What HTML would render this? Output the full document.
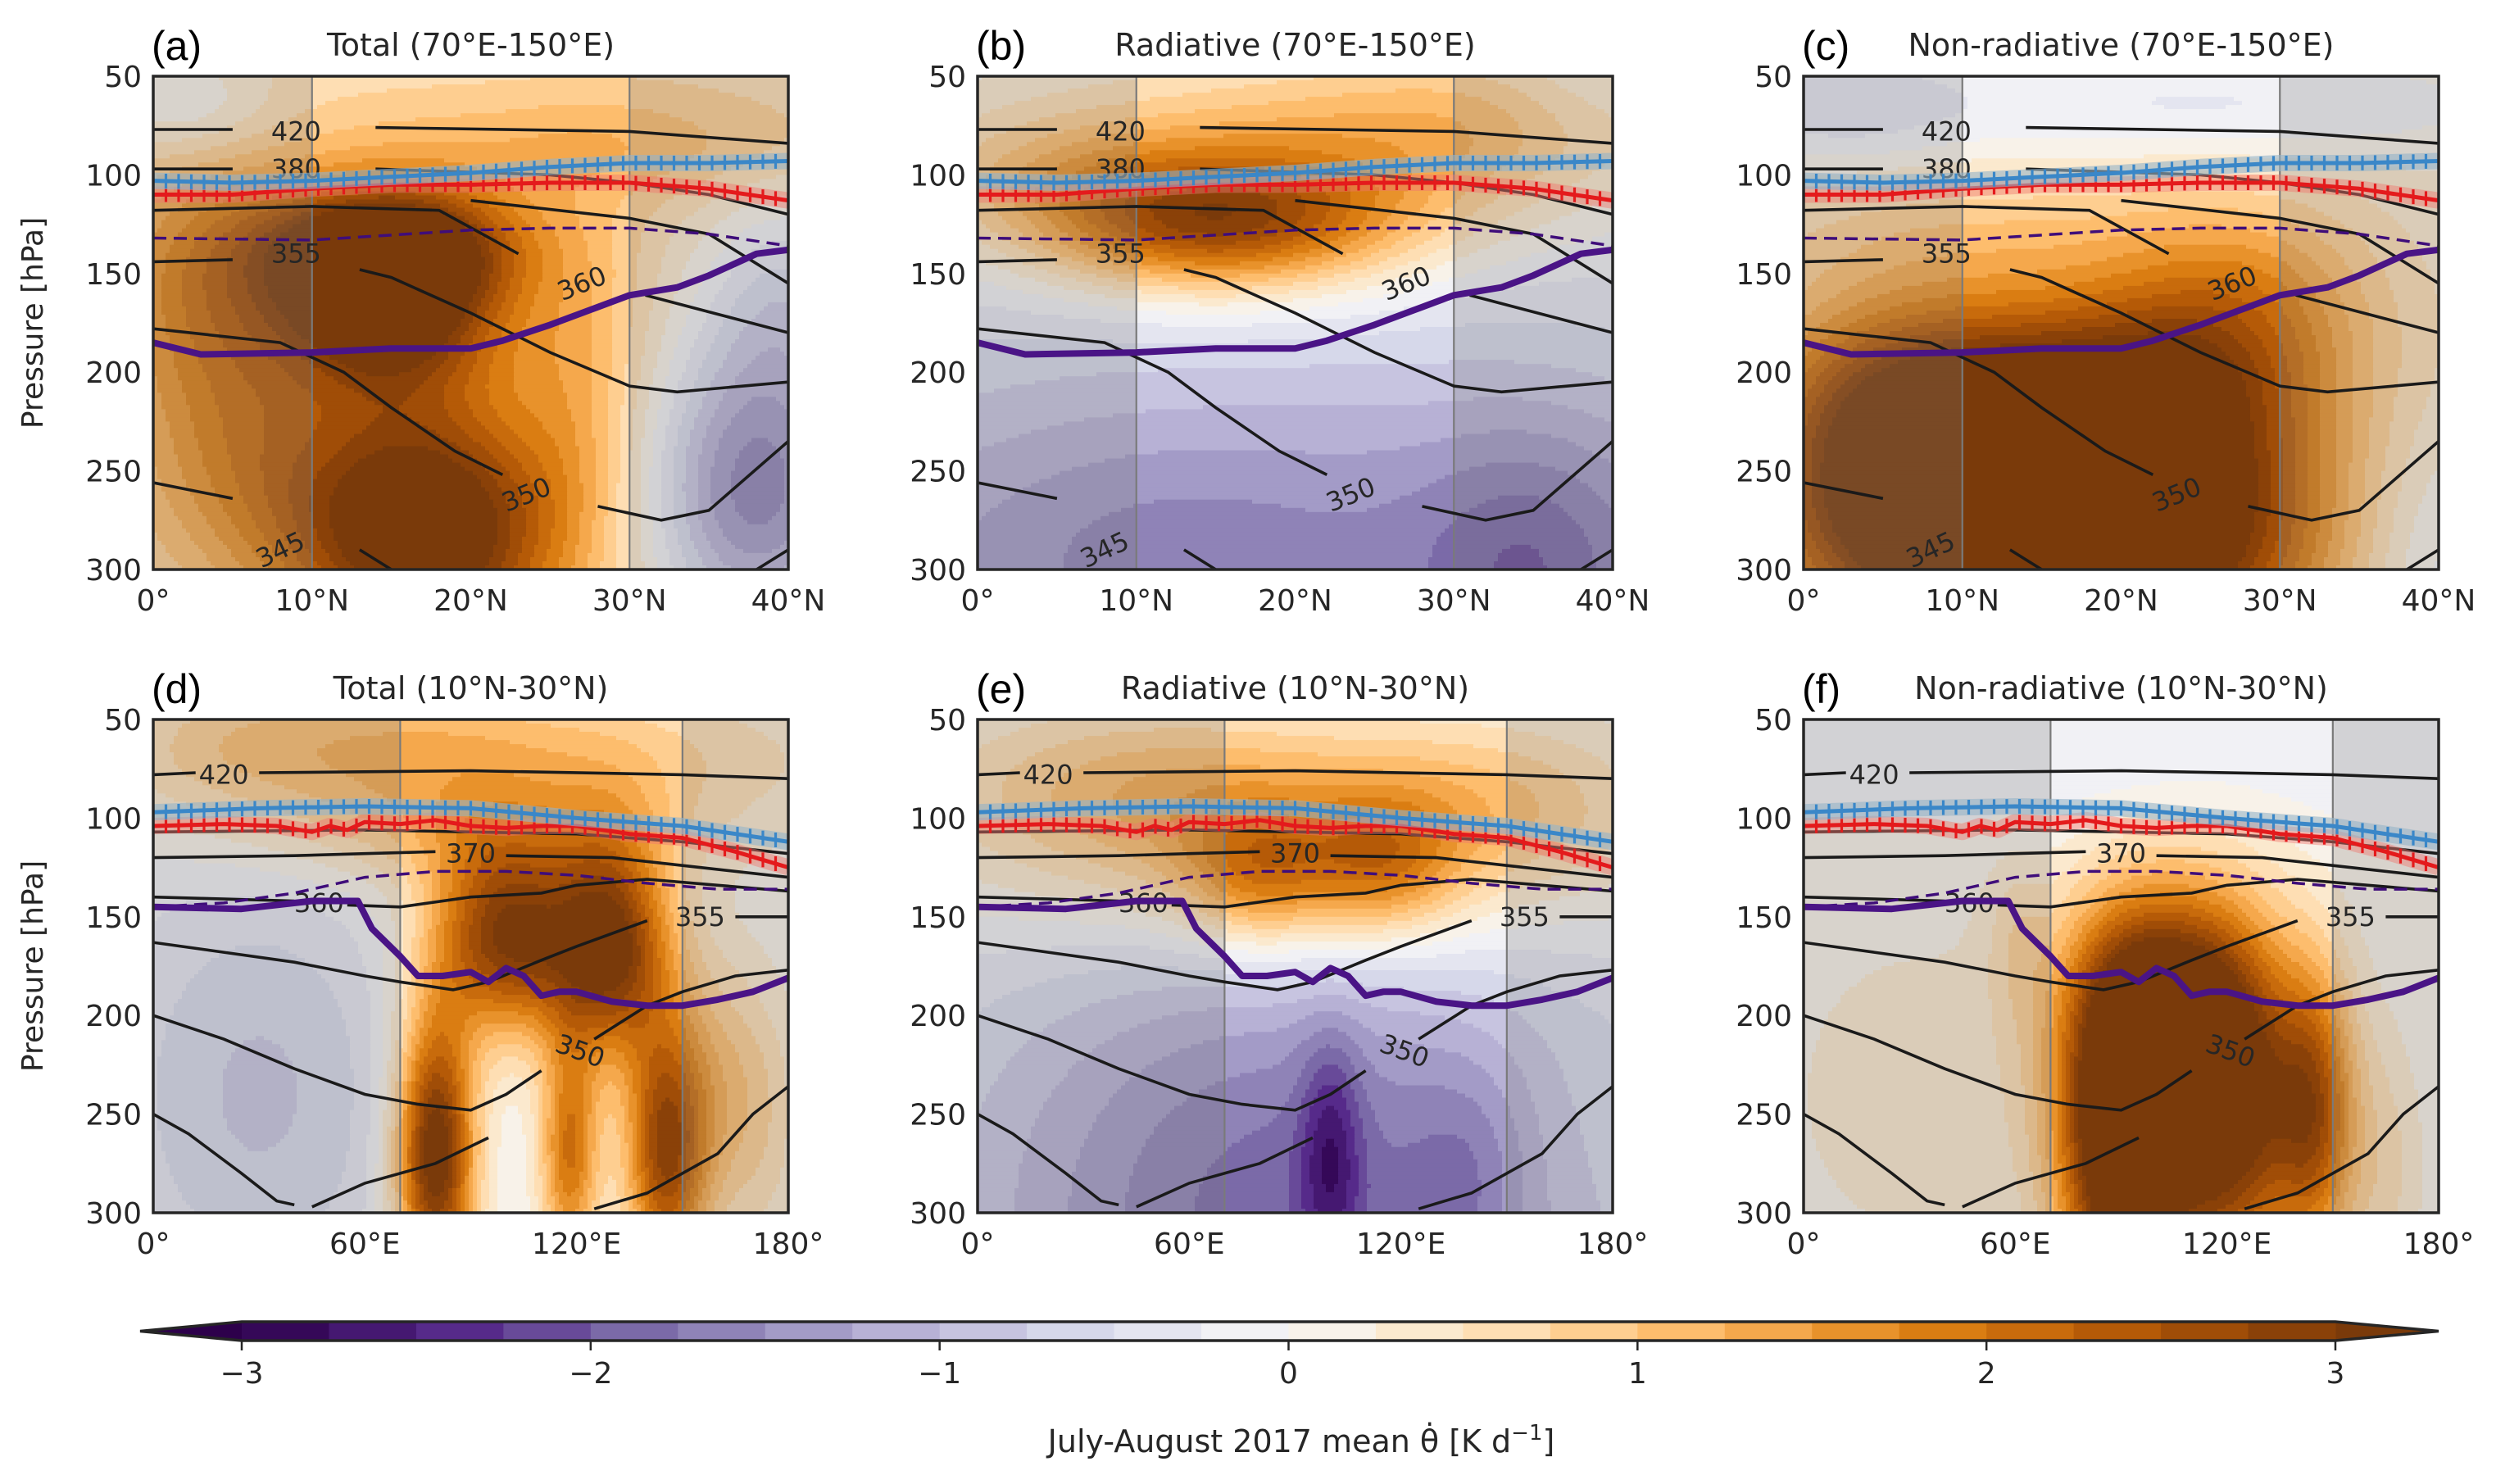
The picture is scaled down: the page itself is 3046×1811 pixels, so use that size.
<!DOCTYPE html>
<html><head><meta charset="utf-8">
<style>
html,body{margin:0;padding:0;background:#fff;}
svg{display:block;}
text{font-family:"DejaVu Sans","Liberation Sans",sans-serif;fill:#262626;}
</style></head>
<body>
<svg id="fig" xmlns="http://www.w3.org/2000/svg" width="3046" height="1811" viewBox="0 0 3046 1811"></svg>
<script>
// ---------- DATA ----------
const yTicks = [50,100,150,200,250,300];
const row1XTicks = [0,10,20,30,40];
const row1XLabels = ["0°","10°N","20°N","30°N","40°N"];
const row2XTicks = [0,60,120,180];
const row2XLabels = ["0°","60°E","120°E","180°"];
const cbarTicks = [-3,-2,-1,0,1,2,3];
const cbarLabels = ["−3","−2","−1","0","1","2","3"];
const panelTitles = ["Total (70°E-150°E)","Radiative (70°E-150°E)","Non-radiative (70°E-150°E)","Total (10°N-30°N)","Radiative (10°N-30°N)","Non-radiative (10°N-30°N)"];
const panelLetters = ["(a)","(b)","(c)","(d)","(e)","(f)"];

// heating-rate field blobs (x position, pressure, x-width, p-width, amplitude) per panel
const aBase = 0.6;
const aBlobX = [15,15,17,4,6,28,38,40,2,27];
const aBlobP = [160,135,280,160,250,85,260,160,65,200];
const aBlobSx = [5,6,6,5,5,10,5,4,4,3];
const aBlobSp = [35,20,45,50,40,20,55,40,20,60];
const aBlobAmp = [3.2,1.5,3.2,1.3,0.8,0.6,-2.2,-0.9,-0.7,0.6];

const bBase = 0;
const bBlobX = [15,25,5,35,20,35,10,38,20];
const bBlobP = [125,95,100,70,300,300,290,60,60];
const bBlobSx = [8,10,8,8,30,5,8,4,15];
const bBlobSp = [25,30,25,25,90,50,40,20,25];
const bBlobAmp = [2.6,0.9,0.8,0.5,-1.5,-0.7,-0.2,-0.3,0.4];

const cBase = 0.3;
const cBlobX = [17,5,15,28,25,2,25,40,10];
const cBlobP = [280,250,200,160,240,65,65,300,130];
const cBlobSx = [10,6,10,6,6,6,14,4,10];
const cBlobSp = [60,50,30,35,60,25,20,50,25];
const cBlobAmp = [3.8,2.0,1.3,0.9,1.0,-0.6,-0.6,-0.6,0.5];

const dBase = 0;
const dBlobX = [90,100,80,130,118,145,30,160,175,90,60,20];
const dBlobP = [70,160,270,165,270,270,240,240,260,110,60,60];
const dBlobSx = [70,15,8,12,6,8,30,12,8,40,30,20];
const dBlobSp = [30,35,50,40,40,45,80,50,50,20,25,25];
const dBlobAmp = [1.1,3,3.5,3,2,2.5,-0.8,1.0,0.3,0.6,0.3,0.3];

const eBase = 0;
const eBlobX = [90,80,115,40,90,100,140,165,150];
const eBlobP = [110,130,125,80,300,270,280,280,90];
const eBlobSx = [60,15,15,40,70,6,12,15,30];
const eBlobSp = [40,25,25,30,110,40,40,50,30];
const eBlobAmp = [1.5,1.2,1.2,0.6,-1.9,-1.0,-0.4,0.2,0.5];

const fBase = 0;
const fBlobX = [90,120,145,100,30,90,165,60,110];
const fBlobP = [270,250,250,190,240,70,280,160,230];
const fBlobSx = [12,14,8,18,35,70,8,6,25];
const fBlobSp = [60,60,50,40,80,25,50,30,70];
const fBlobAmp = [3.5,2.5,2.0,2.0,0.35,-0.25,0.5,0.4,1.2];

// row 1 lines (latitude, pressure)
const row1BlueLat = [0,5,10,15,20,25,30,35,40];
const row1BlueP   = [103,104,103,101,99,96,94,94,93];
const row1RedLat  = [0,5,10,15,20,25,30,35,40];
const row1RedP    = [110,110,107,105,105,104,104,107,113];
const row1PurpleLat = [0,3,10,15,20,22,25,28,30,33,35,38,40];
const row1PurpleP   = [185,191,190,188,188,184,176,167,161,157,151,140,138];
const row1DashLat = [0,10,20,25,30,35,40];
const row1DashP   = [132,133,128,127,127,130,136];
const row1Contours = [
  [[0,77],[5,77]], [[14,76],[30,78],[40,84]],
  [[0,97],[5,97]], [[14,97],[25,100],[30,104],[35,110],[40,120]],
  [[0,118],[10,116],[18,118],[23,140]],
  [[20,113],[30,122],[35,130],[40,155]],
  [[0,144],[5,143]], [[13,148],[15,152],[20,170],[25,190],[30,207],[33,210],[40,205]],
  [[31,161],[40,180]],
  [[0,178],[8,185],[12,200],[15,218],[19,240],[22,252]],
  [[28,268],[32,275],[35,270],[40,235]],
  [[0,256],[5,264]], [[13,290],[15,300]],
  [[38,300],[40,290]]
];
const row1ContourLabels = ["420","380","355","360","350","345"];
const row1LabelX = [9,9,9,27,23.5,8];
const row1LabelP = [78,97,140,155,262,290];
const row1LabelRot = [0,0,0,-22,-22,-25];

// row 2 lines (longitude, pressure)
const row2BlueLon = [0,30,60,90,120,150,180];
const row2BlueP   = [97,95,94,95,100,104,112];
const row2RedLon  = [0,20,35,45,50,55,60,70,80,90,100,110,120,135,150,165,180];
const row2RedP    = [104,103,104,107,104,106,102,103,101,104,105,104,104,108,110,117,125];
const row2PurpleLon = [0,25,35,45,58,62,70,75,82,90,95,100,105,110,115,120,130,140,150,160,170,180];
const row2PurpleP   = [145,146,144,142,142,156,170,180,180,178,183,176,180,190,188,188,193,195,195,192,188,181];
const row2DashLon = [0,20,40,60,80,100,120,140,160,180];
const row2DashP   = [145,143,138,130,127,127,129,133,136,136];
const row2Contours = [
  [[0,78],[12,77]], [[30,77],[90,76],[150,78],[180,80]],
  [[0,107],[60,106],[120,108],[150,112],[180,118]],
  [[0,120],[40,119],[60,118],[80,117]], [[100,119],[130,120],[150,124],[180,130]],
  [[0,140],[20,141],[40,142]], [[55,144],[70,145],[90,140],[110,138],[120,134],[140,131],[160,134],[180,137]],
  [[0,163],[20,168],[40,173],[60,180],[70,183],[85,187],[95,183],[110,172],[120,165],[140,152]], [[165,150],[180,150]],
  [[0,200],[20,212],[40,227],[60,240],[75,245],[90,248],[100,240],[110,228]], [[125,212],[140,195],[150,188],[165,180],[180,177]],
  [[0,250],[10,260],[25,280],[35,294],[40,296]],
  [[45,297],[60,285],[80,275],[95,262]],
  [[125,298],[140,290],[160,270],[170,250],[180,236]]
];
const row2ContourLabels = ["420","370","360","355","350"];
const row2LabelX = [20,90,47,155,121];
const row2LabelP = [78,118,143,150,218];
const row2LabelRot = [0,0,0,0,20];

// ---------- LAYOUT ----------
const colLeft = [187,1193,2201];
const rowTop = [93,878];
const PW = 775, PH = 602;
const NS = "http://www.w3.org/2000/svg";
const svg = document.getElementById('fig');
function el(tag, attrs, parent){
  const e = document.createElementNS(NS, tag);
  for (const k in attrs) e.setAttribute(k, attrs[k]);
  (parent||svg).appendChild(e);
  return e;
}
const cmV = [-3,-2.4,-1.8,-1.2,-0.6,0,0.6,1.2,1.8,2.4,3];
const cmC = ["#2d004b","#542788","#8073ac","#b2abd2","#d8daeb","#f7f7f7","#fee0b6","#fdb863","#e08214","#b35806","#7f3b08"];
function hex2rgb(h){return [parseInt(h.substr(1,2),16),parseInt(h.substr(3,2),16),parseInt(h.substr(5,2),16)];}
function cmap(v){
  if (v<=cmV[0]) return cmC[0];
  if (v>=cmV[cmV.length-1]) return cmC[cmC.length-1];
  let i=0; while(v>cmV[i+1]) i++;
  const t=(v-cmV[i])/(cmV[i+1]-cmV[i]);
  const a=hex2rgb(cmC[i]), b=hex2rgb(cmC[i+1]);
  return "rgb("+a.map((x,j)=>Math.round(x+(b[j]-x)*t)).join(",")+")";
}
function binColor(f){
  let k = Math.floor(f/0.25);
  if (k < -12) return "#2d004b";
  if (k > 11) return "#7a3a0a";
  return cmap((k+0.5)*0.25);
}

const panelBlobs = [
  [aBase,aBlobX,aBlobP,aBlobSx,aBlobSp,aBlobAmp],
  [bBase,bBlobX,bBlobP,bBlobSx,bBlobSp,bBlobAmp],
  [cBase,cBlobX,cBlobP,cBlobSx,cBlobSp,cBlobAmp],
  [dBase,dBlobX,dBlobP,dBlobSx,dBlobSp,dBlobAmp],
  [eBase,eBlobX,eBlobP,eBlobSx,eBlobSp,eBlobAmp],
  [fBase,fBlobX,fBlobP,fBlobSx,fBlobSp,fBlobAmp]
];

function interp(xs, ps, x){
  if (x<=xs[0]) return ps[0];
  for (let i=0;i<xs.length-1;i++){
    if (x<=xs[i+1]){const t=(x-xs[i])/(xs[i+1]-xs[i]); return ps[i]+t*(ps[i+1]-ps[i]);}
  }
  return ps[ps.length-1];
}

for (let pi=0; pi<6; pi++){
  const r = Math.floor(pi/3), c = pi%3;
  const X0 = colLeft[c], Y0 = rowTop[r];
  const xmax = r===0 ? 40 : 180;
  const sx = v => X0 + v/xmax*PW;
  const sy = p => Y0 + (p-50)/250*PH;
  const g = el('g', {});
  
  
  const cp = el('clipPath', {id:'clip'+pi}, g);
  el('rect',{x:X0,y:Y0,width:PW,height:PH},cp);
  const field = el('g', {'clip-path':'url(#clip'+pi+')'}, g);
  
  
  const [base,bx,bp,bsx,bsp,bamp] = panelBlobs[pi];
  const NX=155, NY=120, cw=PW/NX, ch=PH/NY;
  for (let j=0;j<NY;j++){
    const p = 50 + (j+0.5)/NY*250;
    let runStart=0, runCol=null;
    for (let i=0;i<=NX;i++){
      let col=null;
      if (i<NX){
        const x=(i+0.5)/NX*xmax;
        let f=base;
        for (let k=0;k<bx.length;k++){
          const dx=(x-bx[k])/bsx[k], dp=(p-bp[k])/bsp[k];
          f+=bamp[k]*Math.exp(-0.5*(dx*dx+dp*dp));
        }
        col=binColor(f);
      }
      if (col!==runCol){
        if (runCol!==null){
          el('rect',{x:(X0+runStart*cw).toFixed(1),y:(Y0+j*ch).toFixed(1),width:((i-runStart)*cw+0.6).toFixed(1),height:(ch+0.6).toFixed(1),fill:runCol},field);
        }
        runStart=i; runCol=col;
      }
    }
  }
  const shadeX = r===0 ? [[0,10],[30,40]] : [[0,70],[150,180]];
  shadeX.forEach(s=>{
    const sh = el('rect',{x:sx(s[0]),y:Y0,width:sx(s[1])-sx(s[0]),height:PH,fill:'rgba(120,120,120,0.25)'},field);
    
    
    el('line',{x1:sx(s[0]===0?s[1]:s[0]),x2:sx(s[0]===0?s[1]:s[0]),y1:Y0,y2:Y0+PH,stroke:'#7a7a7a','stroke-width':2.2},field);
  });
  const contours = r===0 ? row1Contours : row2Contours;
  contours.forEach(cl=>{
    const pl = el('polyline',{points:cl.map(q=>sx(q[0]).toFixed(1)+','+sy(q[1]).toFixed(1)).join(' '),fill:'none',stroke:'#1a1a1a','stroke-width':3.6},field);
    
    
  });
  const labs = r===0 ? row1ContourLabels : row2ContourLabels;
  const lx = r===0 ? row1LabelX : row2LabelX;
  const lp = r===0 ? row1LabelP : row2LabelP;
  const lr = r===0 ? row1LabelRot : row2LabelRot;
  labs.forEach((t,k)=>{
    const tx = el('text',{x:sx(lx[k]),y:sy(lp[k])+11,'font-size':32,'text-anchor':'middle',transform:'rotate('+lr[k]+' '+sx(lx[k])+' '+sy(lp[k])+')',fill:'#1a1a1a'},field);
    tx.textContent=t;
    
    
  });
  const dX = r===0?row1DashLat:row2DashLon, dP = r===0?row1DashP:row2DashP;
  const dl = el('polyline',{points:dX.map((x,k)=>sx(x).toFixed(1)+','+sy(dP[k]).toFixed(1)).join(' '),fill:'none',stroke:'#3f0d7a','stroke-width':3.5,'stroke-dasharray':'16,9'},field);
  
  
  const pX = r===0?row1PurpleLat:row2PurpleLon, pP = r===0?row1PurpleP:row2PurpleP;
  const sl = el('polyline',{points:pX.map((x,k)=>sx(x).toFixed(1)+','+sy(pP[k]).toFixed(1)).join(' '),fill:'none',stroke:'#4a1486','stroke-width':8,'stroke-linejoin':'round'},field);
  
  
  [[r===0?row1RedLat:row2RedLon, r===0?row1RedP:row2RedP, '#e41a1c','rgba(240,120,110,0.45)','red-tropopause-line'],
   [r===0?row1BlueLat:row2BlueLon, r===0?row1BlueP:row2BlueP, '#3a87c8','rgba(150,180,200,0.6)','blue-tropopause-line']].forEach(L=>{
    const [xs,ps,colr,halo,nm]=L;
    const pts = xs.map((x,k)=>sx(x).toFixed(1)+','+sy(ps[k]).toFixed(1)).join(' ');
    const gg = el('g',{},field);
    
    
    el('polyline',{points:pts,fill:'none',stroke:halo,'stroke-width':20,'stroke-linejoin':'round'},gg);
    el('polyline',{points:pts,fill:'none',stroke:colr,'stroke-width':5,'stroke-linejoin':'round'},gg);
    const nM=50;
    for(let m=0;m<=nM;m++){
      const xv=m/nM*xmax, yy=sy(interp(xs,ps,xv));
      el('line',{x1:sx(xv),x2:sx(xv),y1:yy-9,y2:yy+9,stroke:colr,'stroke-width':3.2},gg);
    }
  });
  const fr = el('rect',{x:X0,y:Y0,width:PW,height:PH,fill:'none',stroke:'#262626','stroke-width':3.5},g);
  
  
  yTicks.forEach(t=>{
    const tt = el('text',{x:X0-14,y:sy(t)+13,'font-size':36,'text-anchor':'end'},g);
    tt.textContent=t;
    
    
  });
  const xt = r===0?row1XTicks:row2XTicks, xl = r===0?row1XLabels:row2XLabels;
  xt.forEach((t,k)=>{
    const tt = el('text',{x:sx(t),y:Y0+PH+50,'font-size':36,'text-anchor':'middle'},g);
    tt.textContent=xl[k];
    
    
  });
  const ti = el('text',{x:X0+PW/2,y:Y0-25,'font-size':38,'text-anchor':'middle'},g);
  ti.textContent=panelTitles[pi];
  
  
  const le = el('text',{x:X0-2,y:Y0-20,'font-size':50,'text-anchor':'start',style:'font-family:"Liberation Sans",sans-serif;fill:#000'},g);
  le.textContent=panelLetters[pi];
  
  
  if (c===0){
    const yl = el('text',{x:0,y:0,'font-size':36,'text-anchor':'middle',transform:'translate(52,'+(Y0+PH/2)+') rotate(-90)'},g);
    yl.textContent='Pressure [hPa]';
    
    
  }
}

// ---------- COLORBAR ----------
const cb = el('g',{});


const CB0=295, CB1=2850, CBY=1613, CBH=23;
const cbx = v => CB0 + (v+3)/6*(CB1-CB0);
el('polygon',{points:`171,${CBY+CBH/2} ${CB0},${CBY} ${CB0},${CBY+CBH}`,fill:'#2d004b'},cb);
el('polygon',{points:`2976,${CBY+CBH/2} ${CB1},${CBY} ${CB1},${CBY+CBH}`,fill:'#7a3a0a'},cb);
for(let k=0;k<24;k++){
  const v=-3+k*0.25;
  el('rect',{x:cbx(v),y:CBY,width:cbx(v+0.25)-cbx(v)+0.5,height:CBH,fill:binColor(v+0.125)},cb);
}
el('polygon',{points:`171,${CBY+CBH/2} ${CB0},${CBY} ${CB1},${CBY} 2976,${CBY+CBH/2} ${CB1},${CBY+CBH} ${CB0},${CBY+CBH}`,fill:'none',stroke:'#262626','stroke-width':3.5},cb);
cbarTicks.forEach((t,k)=>{
  el('line',{x1:cbx(t),x2:cbx(t),y1:CBY+CBH,y2:CBY+CBH+12,stroke:'#262626','stroke-width':2.5},cb);
  const tt=el('text',{x:cbx(t),y:CBY+CBH+52,'font-size':36,'text-anchor':'middle'},cb);
  tt.textContent=cbarLabels[k];
  
  
});
const cl=el('text',{x:1588,y:1772,'font-size':38,'text-anchor':'middle'},cb);
cl.innerHTML='July-August 2017 mean θ̇ [K d<tspan baseline-shift="super" font-size="26">−1</tspan>]';


</script>
</body></html>
